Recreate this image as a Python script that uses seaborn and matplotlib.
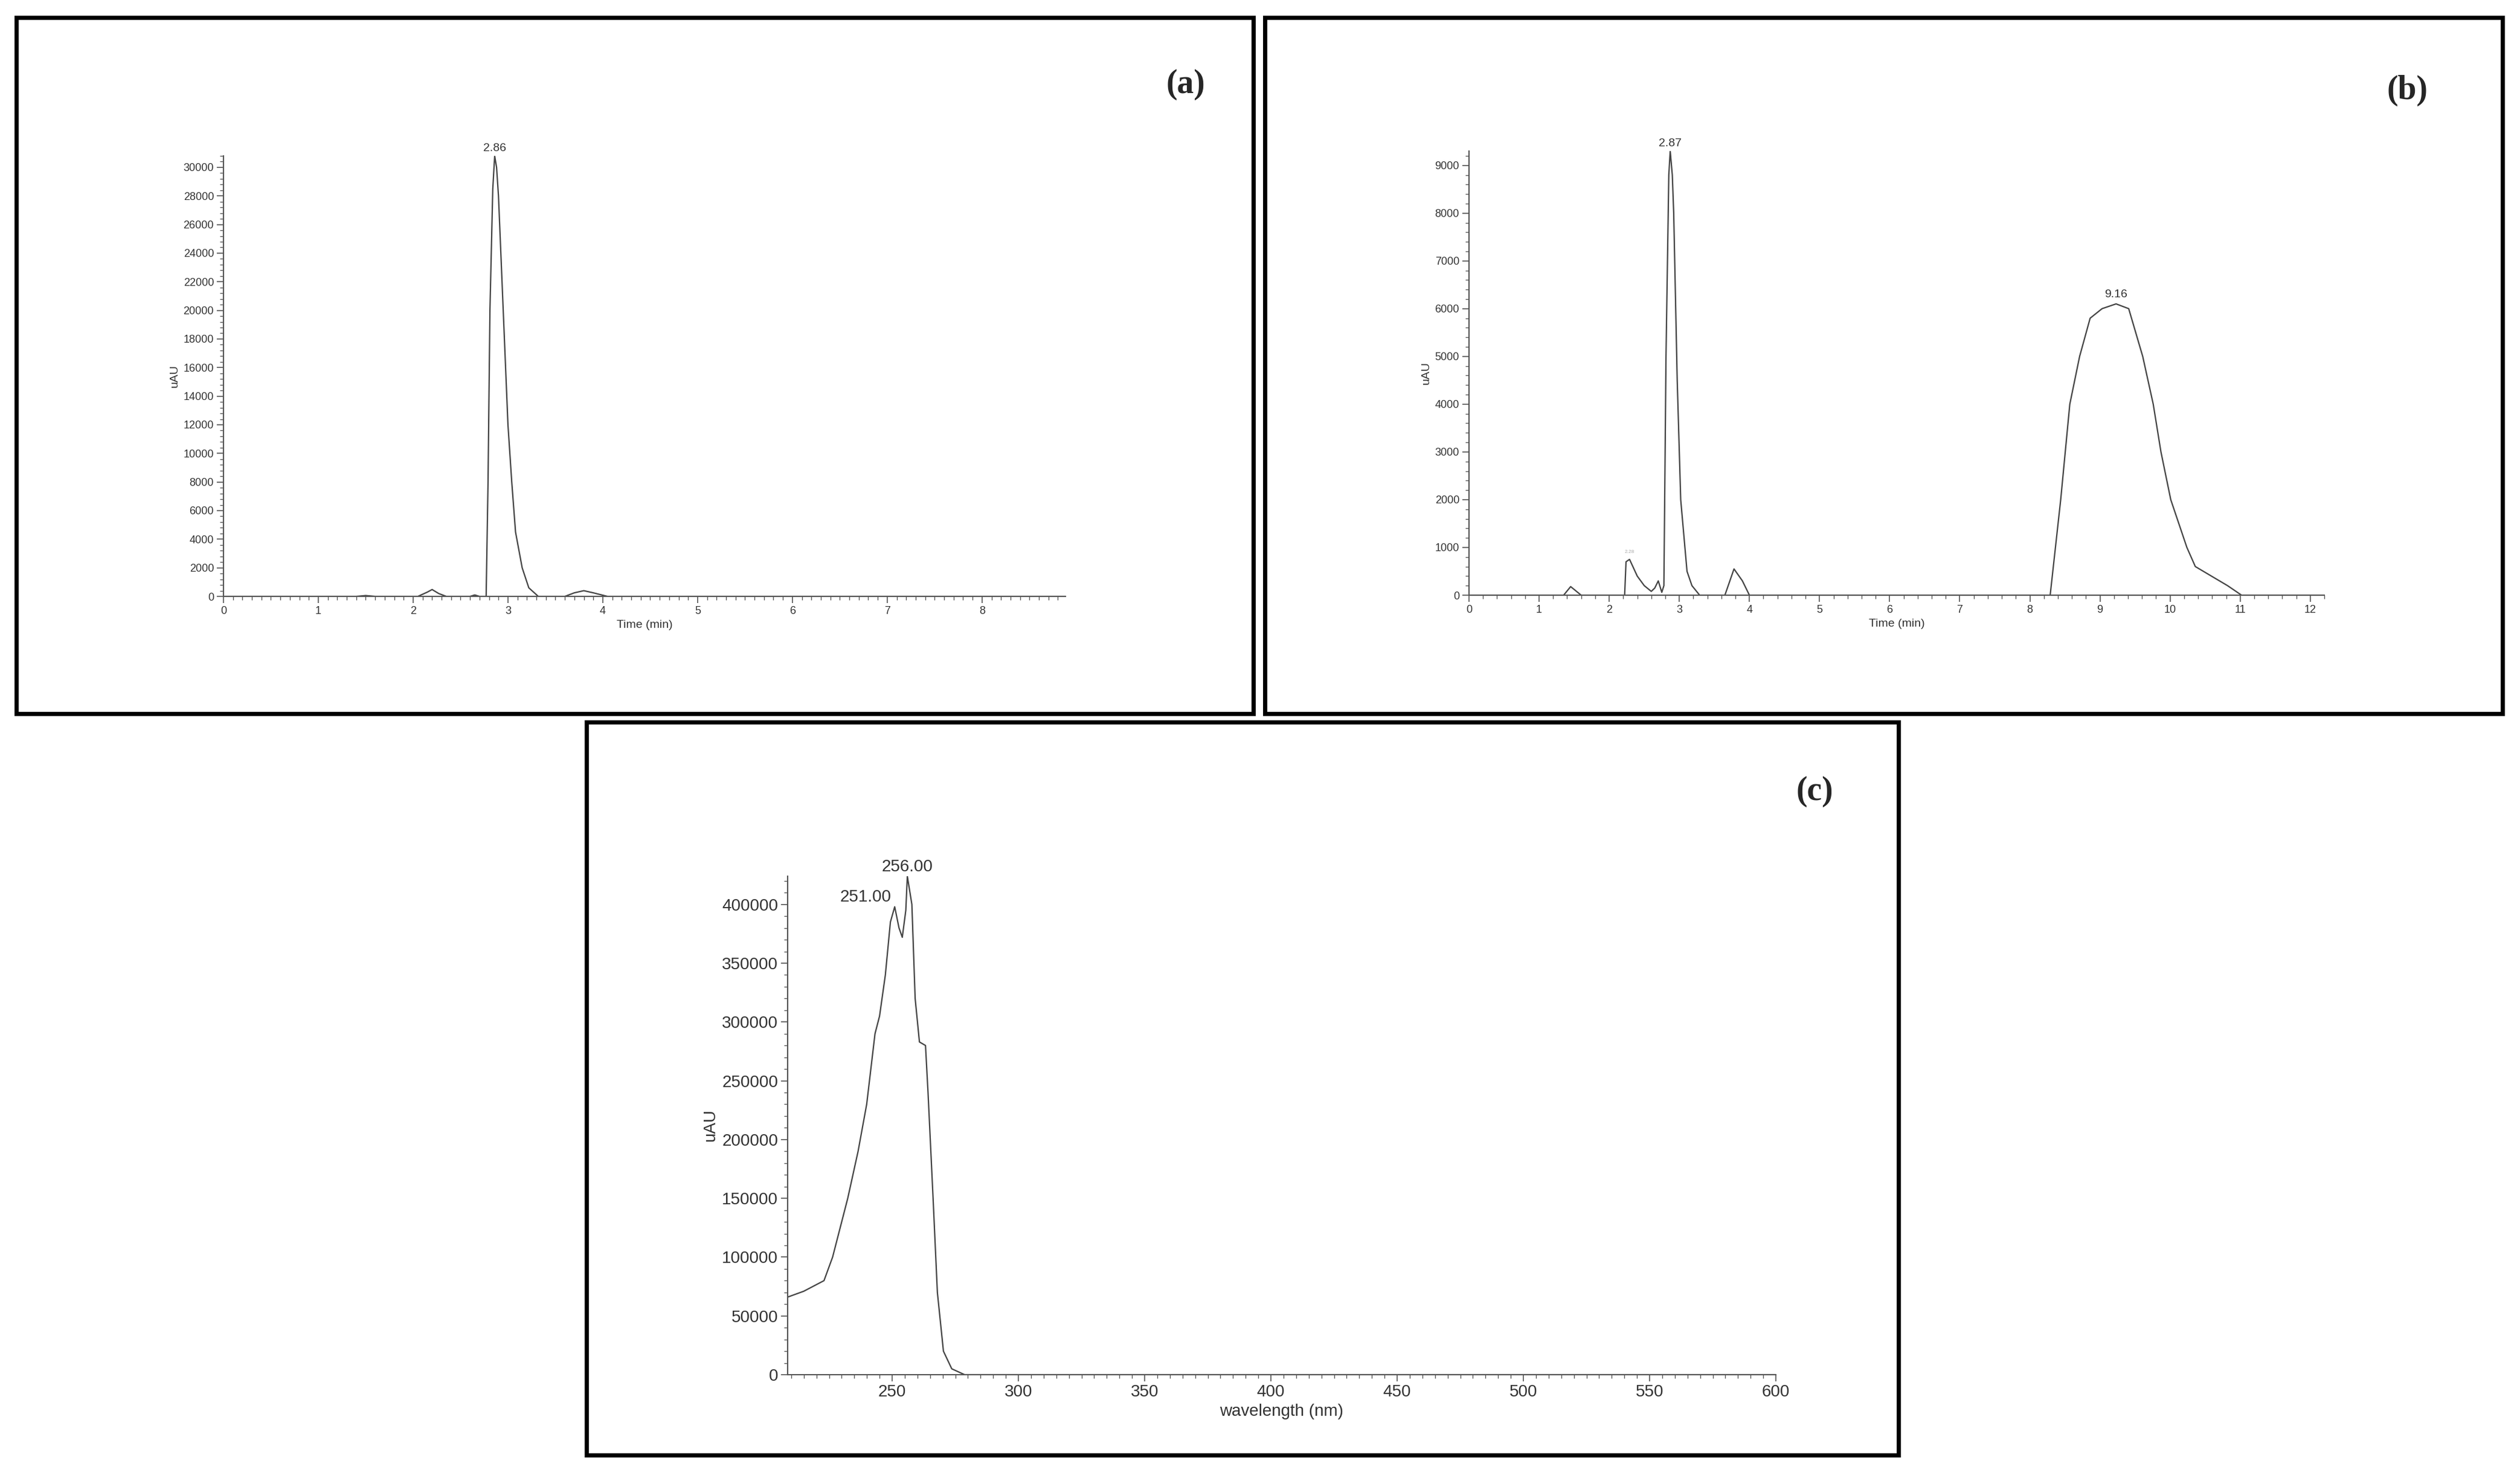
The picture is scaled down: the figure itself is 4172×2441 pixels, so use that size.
import numpy as np
import pandas as pd
import matplotlib
matplotlib.use("Agg")
import matplotlib.pyplot as plt
from matplotlib.patches import Rectangle
from matplotlib.ticker import MultipleLocator
import seaborn as sns

sns.set_style("white")
plt.rcParams['font.family'] = ['Liberation Sans', 'DejaVu Sans']

# Panel (a) chromatogram
a_time = [0, 1.0, 1.4, 1.5, 1.6, 2.05, 2.15, 2.2, 2.27, 2.35, 2.6, 2.65, 2.7, 2.77, 2.79, 2.81, 2.84, 2.86,
          2.88, 2.90, 2.95, 3.0, 3.04, 3.08, 3.15, 3.22, 3.32, 3.6, 3.7, 3.8, 3.9, 4.05, 8.88]
a_uau = [0, 0, 0, 60, 0, 0, 300, 480, 200, 0, 0, 100, 0, 0, 8000, 20000, 28500, 30800,
         30000, 28000, 20000, 12000, 8000, 4500, 2000, 600, 0, 0, 250, 400, 250, 0, 0]
# Panel (b) chromatogram
b_time = [0, 1.35, 1.45, 1.6, 2.22, 2.24, 2.29, 2.4, 2.5, 2.6, 2.65, 2.7, 2.75, 2.78, 2.81, 2.85, 2.87,
          2.9, 2.92, 2.97, 3.02, 3.11, 3.18, 3.29, 3.65, 3.78, 3.9, 4.0, 8.29, 8.44, 8.57, 8.71, 8.86,
          9.03, 9.23, 9.41, 9.61, 9.76, 9.87, 10.01, 10.24, 10.36, 10.59, 10.82, 11.02, 12.2]
b_uau = [0, 0, 180, 0, 0, 700, 750, 400, 200, 80, 150, 300, 60, 200, 5000, 8800, 9300,
         8800, 8000, 4500, 2000, 500, 200, 0, 0, 550, 300, 0, 0, 2000, 4000, 5000, 5800,
         6000, 6100, 6000, 5000, 4000, 3000, 2000, 1000, 600, 400, 200, 0, 0]
# Panel (c) UV spectrum
c_wl = [208.6, 215, 223, 226.4, 232.4, 236.5, 239.9, 243.2, 245, 247.3, 249.3, 251.0, 252.7, 254,
        255.4, 256.0, 257.8, 259.1, 260.8, 263.2, 264.2, 266.2, 267.9, 270.3, 273.6, 278.7, 600]
c_uau = [66000, 71000, 80000, 100000, 150000, 190000, 230000, 290000, 305000, 340000, 385000, 398000,
         380000, 372000, 395000, 424000, 400000, 320000, 283000, 280000, 240000, 150000, 70000, 20000,
         5000, 0, 0]

W, H = 4172, 2441
fig = plt.figure(figsize=(W / 100, H / 100), dpi=100)

def frame(x0, y0, x1, y1):
    fig.patches.append(Rectangle((x0 / W, 1 - y1 / H), (x1 - x0) / W, (y1 - y0) / H,
                                 transform=fig.transFigure, fill=False, lw=5, ec='black'))

frame(27, 29, 2075, 1181)
frame(2094, 29, 4143, 1181)
frame(971, 1195, 3143, 2408)

def axes(l, t, r, b):
    return fig.add_axes([l / W, 1 - b / H, (r - l) / W, (b - t) / H])

lc = '#555555'

def style(ax, fs):
    sns.despine(ax=ax)
    for s in ('left', 'bottom'):
        ax.spines[s].set_color(lc)
        ax.spines[s].set_linewidth(1.5)
    ax.tick_params(which='major', direction='out', length=8, width=1.2, color=lc,
                   labelsize=fs, labelcolor='#333333', left=True, bottom=True)
    ax.tick_params(which='minor', direction='out', length=4, width=1, color=lc, left=True, bottom=True)

# (a)
ax = axes(370, 258, 1764, 987)
sns.lineplot(x=a_time, y=a_uau, ax=ax, sort=False, estimator=None, color='#444444', lw=1.6)
ax.set_xlim(0, 8.88); ax.set_ylim(0, 30800)
ax.xaxis.set_major_locator(MultipleLocator(1)); ax.xaxis.set_minor_locator(MultipleLocator(0.1))
ax.yaxis.set_major_locator(MultipleLocator(2000)); ax.yaxis.set_minor_locator(MultipleLocator(400))
style(ax, 13)
ax.set_xlabel('Time (min)', fontsize=14, color='#333333')
ax.set_ylabel('uAU', fontsize=14, color='#333333')
ax.annotate('2.86', (2.86, 30800), xytext=(0, 6), textcoords='offset points', ha='center', fontsize=14, color='#333333')
fig.text(1995 / W, 1 - 140 / H, '(a)', fontsize=40, weight='bold', family='Liberation Serif', ha='right', va='center')

# (b)
ax = axes(2432, 250, 3848, 985)
sns.lineplot(x=b_time, y=b_uau, ax=ax, sort=False, estimator=None, color='#444444', lw=1.6)
ax.set_xlim(0, 12.2); ax.set_ylim(0, 9300)
ax.xaxis.set_major_locator(MultipleLocator(1)); ax.xaxis.set_minor_locator(MultipleLocator(0.2))
ax.yaxis.set_major_locator(MultipleLocator(1000)); ax.yaxis.set_minor_locator(MultipleLocator(200))
style(ax, 13)
ax.set_xlabel('Time (min)', fontsize=14, color='#333333')
ax.set_ylabel('uAU', fontsize=14, color='#333333')
ax.annotate('2.87', (2.87, 9300), xytext=(0, 6), textcoords='offset points', ha='center', fontsize=14, color='#333333')
ax.annotate('9.16', (9.23, 6100), xytext=(0, 8), textcoords='offset points', ha='center', fontsize=14, color='#333333')
ax.annotate('2.28', (2.29, 750), xytext=(0, 8), textcoords='offset points', ha='center', fontsize=6, color='#aaaaaa')
fig.text(4020 / W, 1 - 150 / H, '(b)', fontsize=40, weight='bold', family='Liberation Serif', ha='right', va='center')

# (c)
ax = axes(1304, 1450, 2940, 2275)
sns.lineplot(x=c_wl, y=c_uau, ax=ax, sort=False, estimator=None, color='#444444', lw=1.6)
ax.set_xlim(208.6, 600); ax.set_ylim(0, 424000)
ax.xaxis.set_major_locator(MultipleLocator(50)); ax.xaxis.set_minor_locator(MultipleLocator(5))
ax.yaxis.set_major_locator(MultipleLocator(50000)); ax.yaxis.set_minor_locator(MultipleLocator(10000))
style(ax, 20)
ax.set_xlabel('wavelength (nm)', fontsize=20, color='#333333')
ax.set_ylabel('uAU', fontsize=20, color='#333333')
ax.annotate('251.00', (251.0, 398000), xytext=(-4, 6), textcoords='offset points', ha='right', fontsize=20, color='#333333')
ax.annotate('256.00', (256.0, 424000), xytext=(0, 6), textcoords='offset points', ha='center', fontsize=20, color='#333333')
fig.text(3035 / W, 1 - 1310 / H, '(c)', fontsize=40, weight='bold', family='Liberation Serif', ha='right', va='center')

fig.savefig('out.png', dpi=100, facecolor='white')
